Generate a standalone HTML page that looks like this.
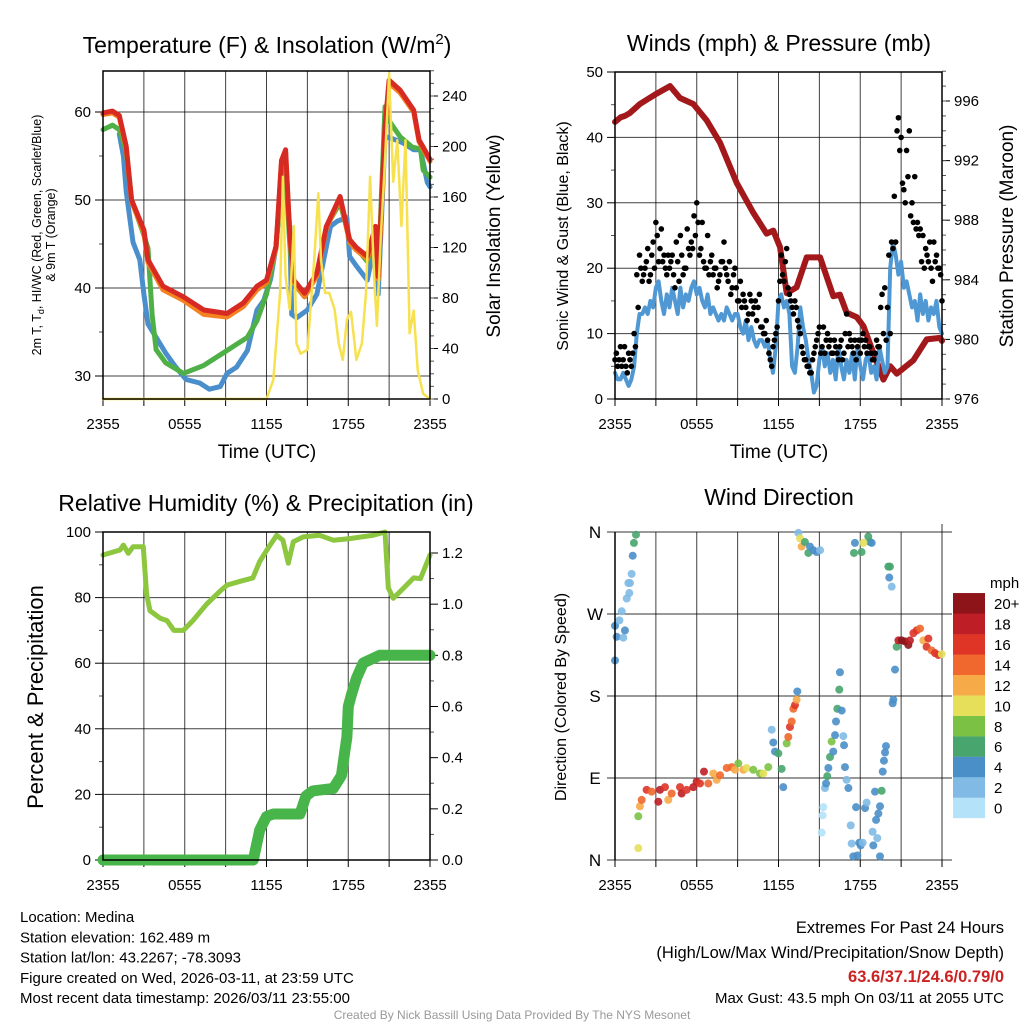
<!DOCTYPE html>
<html><head><meta charset="utf-8"><style>
html,body{margin:0;padding:0;background:#fff;}
svg{display:block;font-family:"Liberation Sans",Arial,sans-serif;}
</style></head><body>
<svg id="chart" width="1024" height="1024" viewBox="0 0 1024 1024" xmlns="http://www.w3.org/2000/svg"></svg>
<script>
// ---------- Panel 1: temperature & insolation ----------
const tempTimes = [0,0.7,1.2,1.7,2.1,3,3.3,4.4,5.9,7.4,9.1,10.3,11.3,12,12.7,13.1,13.4,13.7,14,14.8,15.7,16.4,17.4,18.1,18.6,19.4,20,20.2,20.7,21,21.8,22.8,23.2,23.5,24];
const temp2m = [59.9,60.1,59.6,56.1,50,46.6,43.2,40.2,39,37.5,37.1,38.3,40.2,40.9,44.7,54.5,55.7,46.2,40.9,39.4,41.7,47,50.4,45.5,44.6,43.6,47,41.3,58.3,63.6,62.5,60.2,56.8,56,54.6];
const temp9m = [59.7,59.9,59.4,55.9,49.8,46.3,42.9,39.8,38.6,37.0,36.7,37.9,39.8,40.6,44.5,54.2,55.4,46,40.6,39.0,41.4,46.8,50.2,45.2,44.3,43.3,46.8,41,58,63.3,62.2,60,56.6,55.8,54.4];
const greenTimes = [0,0.7,1.2,1.7,2.1,3,3.3,3.6,3.9,4.6,5.9,7.4,9.1,10.6,11.3,12,12.7,13.2,13.4,13.7,14,14.8,15.7,16.4,17.4,18.1,19.4,20,20.2,20.7,21,21.8,22.7,23.3,23.5,24];
const greenVals = [58,58.5,58,55.5,50,46,44.5,37,33,31.5,30.3,31.2,32.9,34.4,36.3,39.3,44.7,54.5,53.5,45,40.5,39,41.5,47,49.7,45.5,43,47,41.3,60.6,59,57.2,56,55.8,53.4,52.6];
const blueTimes = [1.2,1.5,1.7,2.2,2.7,3,3.3,3.9,4.6,5.3,6.1,7.1,7.8,8.6,9.1,9.8,10.6,11.3,11.8,12.3,12.7,13.2,13.4,13.7,13.85,14.2,15,15.7,16.2,16.7,17.2,17.9,18.1,18.6,19.4,19.9,20.2,20.7,21.2,22,22.8,23.3,23.8,24];
const blueVals = [57.5,55,51,45.2,43.2,39.3,35.9,34.4,32.6,31.1,29.6,29.2,28.5,28.8,30.3,31,32.9,37.5,38.6,41,44.7,53.5,52.5,47,37,36.6,37.5,39.3,43.2,47,47.6,48,43.6,42.5,40.9,44.7,39.3,57.2,57,56.5,55.7,55.7,52,51.5];
const insolTimes = [0,12,12.5,13,13.2,13.4,13.7,14,14.2,14.5,15,15.5,15.8,16,16.3,16.6,17,17.3,17.6,17.9,18.2,18.6,19,19.3,19.6,19.9,20.1,20.4,20.7,21,21.3,21.6,21.9,22.2,22.5,22.8,23.1,23.5,24];
const insolVals = [0,0,15,84,176,97,71,137,44,36,39,110,163,110,84,84,71,44,31,63,69,31,44,84,176,97,58,130,189,258,172,205,137,205,52,70,23,4,0];
// ---------- Panel 2: winds & pressure ----------
const presTimes = [0,0.4,0.73,1.1,1.83,3.06,4.04,4.77,5.75,6.73,7.71,8.93,10.15,11.13,11.62,12.11,12.6,13.33,14.07,15.05,16.02,16.51,17.0,17.74,18.23,18.96,19.7,20.2,20.68,21.9,22.88,23.86,24];
const presVals = [994.6,994.9,995.0,995.2,995.8,996.5,997.0,996.2,995.8,994.7,993.2,990.5,988.5,987.1,987.3,986.2,983.1,983.5,985.5,985.5,982.9,983.0,981.8,981.5,980.9,979.1,977.3,978.2,977.7,978.6,980.0,980.1,979.9];
const sonicStep = 0.2;
const sonicVals = [4,3,3,4,3,2,3,5,10,13, 13,14,13,15,14,17,18,15,13,16, 14,17,15,13,17,14,16,15,17,18, 16,17,15,14,16,13,14,13,12,13, 12,14,13,12,13,13,11,10,12,9, 11,9,8,9,9,8,9,6,4,8, 15,16,14,15,13,5,4,8,14,11, 9,6,4,1,2,6,8,5,7,4, 6,3,8,5,3,6,4,7,3,8, 5,3,6,7,4,5,3,8,6,4, 5,20,24,22,19,21,17,18,16,14, 15,12,16,13,15,12,14,13,15,11, 10];
const gustsA = [6,5,8,6,5,7,5,10,19,22, 18,20,23,19,24,27,21,26,22,19, 20,22,17,21,25,19,20,23,24,28, 30,22,27,20,25,21,19,20,18,21, 24,19,21,17,20,15,18,16,14,13, 15,14,12,16,11,10,9,6,8,10, 15,22,18,23,16,14,15,12,10,7, 6,5,4,7,9,11,8,7,10,9, 7,8,6,9,7,13,10,8,9,8, 7,10,9,8,7,6,9,8,16,17, 14,10,23,24,43,40,32,38,41,30, 34,27,26,25,23,21,20,24,22,20, 15];
const gustsB = [7,6,5,8,4,6,7,8,14,20, 19,21,18,22,20,25,23,21,20,22, 21,19,24,18,22,20,26,22,23,25, 27,23,21,20,19,22,20,17,19,21, 20,18,16,19,17,15,14,15,12,16, 13,15,14,11,10,12,7,5,9,11, 18,19,21,17,15,13,14,11,8,6, 5,4,6,8,10,7,11,9,8,7, 9,7,8,6,10,8,9,7,6,9, 9,8,7,8,6,7,8,14,10,9, 22,24,31,41,38,33,30,34,28,27, 26,25,21,20,22,24,18,21,20,19];
// ---------- Panel 3: RH & precipitation ----------
const rhTimes = [0,1.25,1.5,1.86,2.2,2.96,3.2,3.45,4.2,4.7,5.2,5.9,6.6,7.6,8.6,9.1,10.1,11.0,11.5,12.1,12.75,13.2,13.6,13.97,14.7,15.9,16.9,18.1,19.8,20.7,20.94,21.3,21.8,22.8,23.3,24];
const rhVals = [93,94.5,96,93.5,95.5,95.5,81,76,73.7,73,70,70,73,78,82,83.8,85,86,91,95,99,97.5,90.5,97,98.5,99,97.5,98,99,100,83,79.8,81.8,86,85.8,93];
const precipTimes = [0,11.03,11.5,12.0,12.5,14.46,14.9,15.4,16.9,17.5,17.76,17.9,18.0,18.25,18.6,19.1,20.3,24];
const precipVals = [0,0,0.117,0.17,0.18,0.18,0.25,0.27,0.28,0.33,0.43,0.48,0.60,0.65,0.71,0.77,0.80,0.80];
// ---------- Panel 4: wind direction ----------
const dirTimes = [0,0.12,0,0.61,0.73,0.32,0.49,0.86,1.05,1.10,0.98,1.22,1.30,1.39,1.54,1.71,1.71,1.83,1.96,2.32,2.69,3.18,3.30,3.67,3.91,4.16,4.77,4.89,5.26,5.75,5.99,6.24,6.53,6.85,7.22,7.46,7.71,8.20,8.56,8.81,9.05,9.42,9.66,10.15,10.64,10.89,11.25,11.50,11.62,11.74,11.99,12.23,12.35,12.60,12.72,12.84,12.97,13.09,13.21,13.33,13.38,13.46,13.58,13.70,13.94,14.19,14.31,14.56,14.80,15.05,15.17,15.24,15.29,15.41,15.49,15.58,15.66,15.78,15.90,16.02,16.15,16.22,16.32,16.46,16.51,16.64,16.76,16.81,16.88,17.00,17.13,17.30,17.37,17.49,17.69,17.79,17.93,18.03,18.18,18.35,18.47,18.59,18.72,18.84,17.61,17.54,18.10,18.23,18.91,18.96,19.08,19.16,19.25,19.33,19.45,19.45,19.57,19.65,19.74,19.82,19.89,20.06,20.18,20.13,20.31,20.38,20.43,20.55,20.67,20.80,21.04,21.28,21.53,21.65,21.90,22.14,22.39,22.63,22.87,23.00,23.24,23.49,23.73,23.98];
const dirVals = [219,245,257,244,252,263,273,287,293,304,304,314,334,348,357,13,48,59,66,77,75,64,77,80,66,73,80,73,77,80,86,84,97,84,95,88,93,101,102,99,106,99,101,99,95,95,102,143,129,119,117,100,80,128,135,146,152,166,170,176,185,359,353,344,349,337,344,340,338,340,30,49,58,79,84,92,101,113,130,119,137,152,166,187,206,164,136,126,102,88,79,38,18,4,58,5,19,16,19,57,63,355,349,348,348,337,338,348,31,16,75,44,24,51,4,59,76,97,109,118,125,322,322,310,300,172,176,209,234,241,241,240,236,241,249,252,254,241,234,243,230,227,225,226];
const dirSpeeds = [5,5,5,3,5,3,3,3,3,3,3,3,5,7,7,11,9,13,15,17,15,19,19,17,13,15,17,19,17,19,19,17,19,15,13,13,15,15,15,13,9,13,11,9,9,11,9,3,5,5,7,7,5,9,15,17,15,15,17,13,5,3,11,13,7,7,5,5,5,3,1,1,1,3,5,7,5,7,9,5,5,5,7,7,5,5,3,5,5,3,5,3,3,5,5,5,5,5,3,5,3,7,7,5,5,7,7,11,3,5,5,5,3,5,5,5,7,5,5,5,5,7,7,5,3,5,5,5,7,19,21,21,21,19,17,17,15,13,17,17,15,17,17,11];
const speedLabels = ["0","2","4","6","8","10","12","14","16","18","20+"];
const speedColors = ["#b4e2f8","#80bae5","#4a8fc8","#47a56d","#7bc244","#e6df5a","#f6aa48","#f0682e","#de3527","#be1e25","#8d1519"];

const NS = "http://www.w3.org/2000/svg";
const svg = document.getElementById('chart');
function mk(tag, attrs, parent) {
  const e = document.createElementNS(NS, tag);
  for (const k in attrs) e.setAttribute(k, attrs[k]);
  (parent || svg).appendChild(e);
  return e;
}
function txt(s, x, y, size, anchor, parent, extra) {
  const t = mk('text', Object.assign({x:x, y:y, 'font-size':size, 'text-anchor':anchor||'middle', fill:'#000'}, extra||{}), parent);
  t.textContent = s;
  return t;
}
function linePath(times, vals, xf, yf) {
  let d = '';
  for (let i = 0; i < times.length; i++) d += (i ? 'L' : 'M') + xf(times[i]).toFixed(1) + ' ' + yf(vals[i]).toFixed(1);
  return d;
}
function xScale(p) { return t => p.x0 + t * (p.x1 - p.x0) / 24; }
function linScale(v0, y0, v1, y1) { return v => y0 + (v - v0) * (y1 - y0) / (v1 - v0); }

function drawFrame(p, name) {
  const g = mk('g', {});
  
  
  const xs = xScale(p);
  for (let h = 3; h < 24; h += 3) {
    const gl = mk('line', {x1:xs(h), x2:xs(h), y1:p.y0, y2:p.y1, stroke:'#000', 'stroke-width':1, 'stroke-opacity':0.75}, g);
    
    
  }
  for (let h = 0; h <= 24; h += 3) {
    const tk = mk('line', {x1:xs(h), x2:xs(h), y1:p.y1, y2:p.y1 + 7, stroke:'#000', 'stroke-width':1}, g);
    
    
  }
  const xl = ['2355','0555','1155','1755','2355'];
  for (let i = 0; i < 5; i++) {
    const t = txt(xl[i], xs(i * 6), p.y1 + 30, 15, 'middle', g);
    
    
  }
  return g;
}
function drawBorder(p, g) {
  const b = mk('rect', {x:p.x0, y:p.y0, width:p.x1 - p.x0, height:p.y1 - p.y0, fill:'none', stroke:'#000', 'stroke-width':1.5}, g);
  
  
}
function leftAxis(p, g, ys, majors, minors, fmt, grid) {
  majors.forEach(v => {
    const y = ys(v);
    if (grid) {
      const gl = mk('line', {x1:p.x0, x2:p.x1, y1:y, y2:y, stroke:'#000', 'stroke-width':1, 'stroke-opacity':0.75}, g);
      
      
    }
    const tk = mk('line', {x1:p.x0 - 8, x2:p.x0, y1:y, y2:y, stroke:'#000', 'stroke-width':1}, g);
    
    
    const t = txt(fmt(v), p.x0 - 12, y + 5, 15, 'end', g);
    
    
  });
  minors.forEach(v => {
    const tk = mk('line', {x1:p.x0 - 4, x2:p.x0, y1:ys(v), y2:ys(v), stroke:'#555', 'stroke-width':1}, g);
    
    
  });
}
function rightAxis(p, g, ys, majors, minors, fmt) {
  majors.forEach(v => {
    const y = ys(v);
    const tk = mk('line', {x1:p.x1, x2:p.x1 + 8, y1:y, y2:y, stroke:'#000', 'stroke-width':1}, g);
    
    
    const t = txt(fmt(v), p.x1 + 12, y + 5, 15, 'start', g);
    
    
  });
  minors.forEach(v => {
    const tk = mk('line', {x1:p.x1, x2:p.x1 + 4, y1:ys(v), y2:ys(v), stroke:'#555', 'stroke-width':1}, g);
    
    
  });
}
function range(a, b, s) { const r = []; for (let v = a; v <= b + 1e-9; v += s) r.push(+v.toFixed(4)); return r; }
function series(d, color, width, name, parent) {
  const e = mk('path', {d:d, fill:'none', stroke:color, 'stroke-width':width, 'stroke-linejoin':'round', 'stroke-linecap':'round'}, parent);
  
  
  return e;
}

// ===== Panel 1 =====
const P1 = {x0:103, x1:430, y0:71, y1:399};
const g1 = drawFrame(P1, 'temperature-panel');
const x1s = xScale(P1);
const tY = linScale(60, 112, 30, 376);
const iY = linScale(0, 399, 240, 96);
leftAxis(P1, g1, tY, [30,40,50,60], [35,45,55], v => String(v), true);
rightAxis(P1, g1, iY, range(0,240,40), range(0,260,10), v => String(v));
series(linePath(blueTimes, blueVals, x1s, tY), '#4a8fcc', 5, 'blue-heat-index-line', g1);
series(linePath(greenTimes, greenVals, x1s, tY), '#4fb047', 5, 'green-dewpoint-line', g1);
series(linePath(tempTimes, temp9m, x1s, tY), '#f58220', 5, 'orange-9m-temp-line', g1);
series(linePath(tempTimes, temp2m, x1s, tY), '#d72a22', 5, 'red-2m-temp-line', g1);
series(linePath(insolTimes, insolVals, x1s, iY), '#f7e14f', 2.5, 'yellow-insolation-line', g1);
drawBorder(P1, g1);
let t;
t = mk('text', {x:267, y:53, 'font-size':23, 'text-anchor':'middle'});
t.innerHTML = 'Temperature (F) &amp; Insolation (W/m<tspan dy="-9" font-size="15">2</tspan><tspan dy="9">)</tspan>';


t = txt('Time (UTC)', 267, 458, 19, 'middle');


t = mk('text', {x:0, y:0, 'font-size':12.5, 'text-anchor':'middle', transform:'translate(41,235) rotate(-90)'});
t.innerHTML = '2m T, T<tspan dy="3" font-size="9">d</tspan><tspan dy="-3">, HI/WC (Red, Green, Scarlet/Blue)</tspan>';


t = txt('& 9m T (Orange)', 0, 0, 12.5, 'middle', svg, {transform:'translate(55,235) rotate(-90)'});


t = txt('Solar Insolation (Yellow)', 0, 0, 19, 'middle', svg, {transform:'translate(500,236) rotate(-90)'});



// ===== Panel 2 =====
const P2 = {x0:615, x1:942, y0:72, y1:399};
const g2 = drawFrame(P2, 'winds-panel');
const x2s = xScale(P2);
const wY = linScale(0, 399, 50, 72);
const pY = linScale(976, 399, 996, 101);
leftAxis(P2, g2, wY, range(0,50,10), range(5,45,10), v => String(v), true);
rightAxis(P2, g2, pY, range(976,996,4), range(976,998,1), v => String(v));
series(linePath(presTimes, presVals, x2s, pY), '#a3191b', 6, 'pressure-line', g2);
const sonicTimes = sonicVals.map((v, i) => i * sonicStep);
series(linePath(sonicTimes, sonicVals, x2s, wY), '#4f98d3', 4, 'sonic-wind-line', g2);
const gg = mk('g', {}, g2);


gustsA.forEach((v, i) => {
  const c = mk('circle', {cx:x2s(i * 0.2), cy:wY(v), r:2.8, fill:'#000'}, gg);
  
  
});
gustsB.forEach((v, i) => {
  const c = mk('circle', {cx:x2s(0.1 + i * 0.2), cy:wY(v), r:2.8, fill:'#000'}, gg);
  
  
});
drawBorder(P2, g2);
t = txt('Winds (mph) & Pressure (mb)', 779, 51, 23, 'middle');


t = txt('Time (UTC)', 779, 458, 19, 'middle');


t = txt('Sonic Wind & Gust (Blue, Black)', 0, 0, 16, 'middle', svg, {transform:'translate(568,236) rotate(-90)'});


t = txt('Station Pressure (Maroon)', 0, 0, 19, 'middle', svg, {transform:'translate(1013,236) rotate(-90)'});



// ===== Panel 3 =====
const P3 = {x0:103, x1:430, y0:532, y1:860};
const g3 = drawFrame(P3, 'humidity-panel');
const x3s = xScale(P3);
const rY = linScale(0, 860, 100, 532);
const prY = linScale(0, 860, 1.2, 553);
leftAxis(P3, g3, rY, range(0,100,20), range(10,90,20), v => String(v), true);
rightAxis(P3, g3, prY, range(0,1.2,0.2), range(0.1,1.1,0.2), v => v.toFixed(1));
series(linePath(rhTimes, rhVals, x3s, rY), '#8dc63f', 5, 'relative-humidity-line', g3);
series(linePath(precipTimes, precipVals, x3s, prY), '#48b54a', 11, 'precipitation-line', g3);
drawBorder(P3, g3);
t = txt('Relative Humidity (%) & Precipitation (in)', 266, 511, 23, 'middle');


t = txt('Percent & Precipitation', 0, 0, 22, 'middle', svg, {transform:'translate(43,697) rotate(-90)'});



// ===== Panel 4 =====
const P4 = {x0:615, x1:942, y0:532, y1:860};
const g4 = drawFrame(P4, 'wind-direction-panel');
const x4s = xScale(P4);
const dY = linScale(0, 860, 360, 532);
const dirLabels = ['N','E','S','W','N'];
[0,90,180,270,360].forEach((v, i) => {
  const y = dY(v);
  const gl = mk('line', {x1:P4.x0 - 8, x2:P4.x1 + 10, y1:y, y2:y, stroke:'#000', 'stroke-width':1, 'stroke-opacity':0.8}, g4);
  
  
  const tl = txt(dirLabels[i], P4.x0 - 20, y + 6, 17, 'middle', g4);
  
  
});
const rl = mk('line', {x1:P4.x1, x2:P4.x1, y1:P4.y0 - 8, y2:P4.y1 + 7, stroke:'#000', 'stroke-width':1, 'stroke-opacity':0.8}, g4);


const dg = mk('g', {'fill-opacity':0.9}, g4);


dirTimes.forEach((tm, i) => {
  const bin = Math.min(10, Math.floor(dirSpeeds[i] / 2));
  const c = mk('circle', {cx:x4s(tm), cy:dY(dirVals[i]), r:4, fill:speedColors[bin]}, dg);
  
  
});
const bl = mk('line', {x1:P4.x0, x2:P4.x0, y1:P4.y0, y2:P4.y1, stroke:'#000', 'stroke-width':1.5}, g4);


t = txt('Wind Direction', 779, 505, 23, 'middle');


t = txt('Direction (Colored By Speed)', 0, 0, 16, 'middle', svg, {transform:'translate(566,697) rotate(-90)'});


// colorbar
const cb = mk('g', {});


speedLabels.forEach((lab, i) => {
  const yTop = 818 - (i + 1) * 20.45;
  const r = mk('rect', {x:953, y:yTop, width:32, height:20.6, fill:speedColors[i]}, cb);
  
  
  const tl = txt(lab, 994, yTop + 16, 15, 'start', cb);
  
  
});
t = txt('mph', 990, 588, 15, 'start', cb);



// ===== Footer =====
const leftLines = ['Location: Medina','Station elevation: 162.489 m','Station lat/lon: 43.2267; -78.3093','Figure created on Wed, 2026-03-11, at 23:59 UTC','Most recent data timestamp: 2026/03/11 23:55:00'];
leftLines.forEach((s, i) => {
  const tl = txt(s, 20, 922 + i * 20.3, 15, 'start');
  
  
});
t = txt('Extremes For Past 24 Hours', 1004, 933, 16.5, 'end');


t = txt('(High/Low/Max Wind/Precipitation/Snow Depth)', 1004, 958, 16.5, 'end');


t = txt('63.6/37.1/24.6/0.79/0', 1004, 982, 16.5, 'end', svg, {fill:'#cc2222', 'font-weight':'bold'});


t = txt('Max Gust: 43.5 mph On 03/11 at 2055 UTC', 1004, 1003, 15, 'end');


t = txt('Created By Nick Bassill Using Data Provided By The NYS Mesonet', 512, 1019, 12, 'middle', svg, {fill:'#999'});


</script>
</body></html>
